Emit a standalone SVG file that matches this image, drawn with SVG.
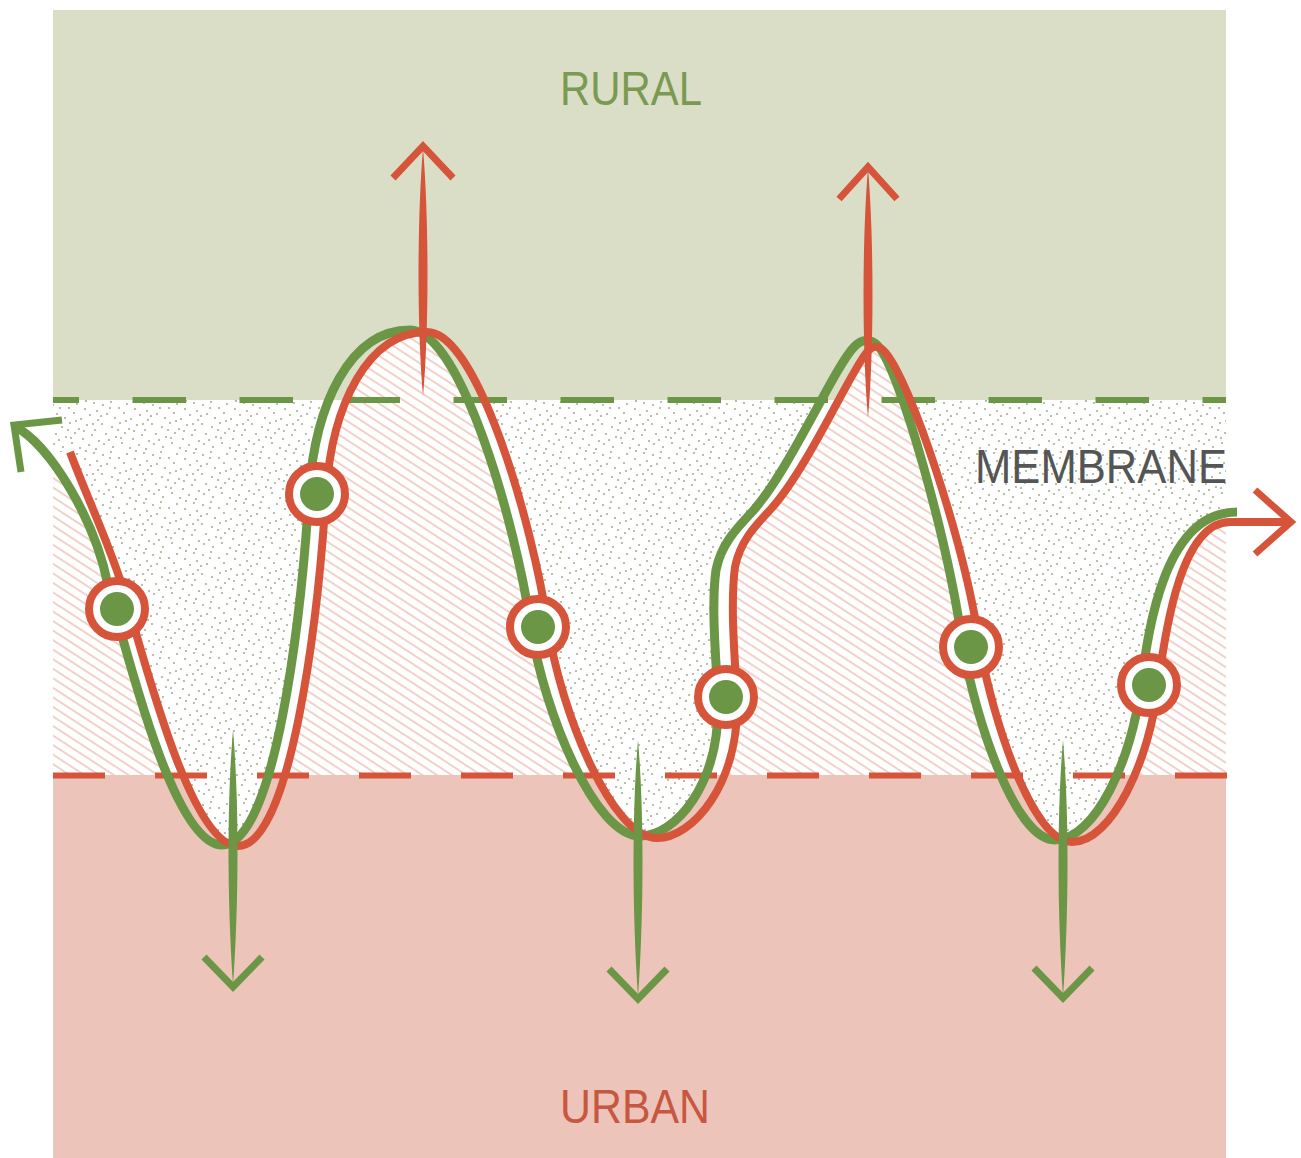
<svg xmlns="http://www.w3.org/2000/svg" width="1301" height="1158" viewBox="0 0 1301 1158">
<style>
.g{fill:none;stroke:#6b9646;stroke-width:9}
.r{fill:none;stroke:#d5543a;stroke-width:8}
.gh{fill:none;stroke:#6b9646;stroke-width:7;stroke-linejoin:miter}
.rh{fill:none;stroke:#d5543a;stroke-width:7;stroke-linejoin:miter}
.ring{fill:#fff;stroke:#d5543a;stroke-width:8}
.dot{fill:#6b9646}
.lbl{font-family:"Liberation Sans",Arial,sans-serif;font-size:48px}
</style>
<defs>
<pattern id="dots" width="50" height="50" patternUnits="userSpaceOnUse">
<rect width="50" height="50" fill="#fff"/>
<g fill="#a9b194">
<circle cx="3" cy="5" r="1.1"/><circle cx="11" cy="2" r="1.1"/><circle cx="19" cy="8" r="1.1"/><circle cx="27" cy="4" r="1.1"/><circle cx="35" cy="9" r="1.1"/><circle cx="44" cy="3" r="1.1"/><circle cx="7" cy="14" r="1.1"/><circle cx="15" cy="18" r="1.1"/><circle cx="24" cy="13" r="1.1"/><circle cx="31" cy="19" r="1.1"/><circle cx="40" cy="15" r="1.1"/><circle cx="48" cy="20" r="1.1"/><circle cx="2" cy="24" r="1.1"/><circle cx="12" cy="27" r="1.1"/><circle cx="20" cy="23" r="1.1"/><circle cx="29" cy="29" r="1.1"/><circle cx="37" cy="25" r="1.1"/><circle cx="45" cy="30" r="1.1"/><circle cx="6" cy="34" r="1.1"/><circle cx="16" cy="37" r="1.1"/><circle cx="25" cy="33" r="1.1"/><circle cx="33" cy="39" r="1.1"/><circle cx="42" cy="35" r="1.1"/><circle cx="49" cy="41" r="1.1"/><circle cx="4" cy="44" r="1.1"/><circle cx="13" cy="47" r="1.1"/><circle cx="22" cy="43" r="1.1"/><circle cx="30" cy="48" r="1.1"/><circle cx="39" cy="45" r="1.1"/><circle cx="46" cy="49" r="1.1"/><circle cx="9" cy="40" r="1.1"/><circle cx="18" cy="30" r="1.1"/><circle cx="36" cy="1" r="1.1"/><circle cx="26" cy="21" r="1.1"/><circle cx="43" cy="24" r="1.1"/><circle cx="1" cy="16" r="1.1"/><circle cx="34" cy="31" r="1.1"/><circle cx="21" cy="38" r="1.1"/><circle cx="10" cy="8" r="1.1"/><circle cx="47" cy="11" r="1.1"/>
</g>
</pattern>
<pattern id="hatch" width="12" height="8" patternUnits="userSpaceOnUse" patternTransform="rotate(33)">
<rect width="12" height="8" fill="#fff"/>
<line x1="0" y1="4" x2="12" y2="4" stroke="#f0c9be" stroke-width="1.7"/>
</pattern>
<clipPath id="band-dots"><rect x="53" y="400" width="1173" height="758"/></clipPath>
<clipPath id="band-hatch"><rect x="53" y="10" width="1173" height="765"/></clipPath>
<clipPath id="above-red"><path d="M0,452 L70,452 C86,495 112,550 125,595 C147,670 192,846 238,846 C291,846 318,620 326,494 C332,404 368,332 427,332 C477,332 532,520 548,627 C561,713 612,838 657,838 C692,838 740,785 737,697 C735,660 730,605 735,567 C740,542 754,527 770,510 C807,470 850,372 867,352 C873,345 879,345 885,352 C910,380 964,540 980,647 C993,720 1032,842 1072,842 C1112,842 1150,760 1158,685 C1166,625 1182,522 1230,522 L1301,522 L1301,0 L0,0 Z"/></clipPath>
<clipPath id="below-red"><path d="M0,452 L70,452 C86,495 112,550 125,595 C147,670 192,846 238,846 C291,846 318,620 326,494 C332,404 368,332 427,332 C477,332 532,520 548,627 C561,713 612,838 657,838 C692,838 740,785 737,697 C735,660 730,605 735,567 C740,542 754,527 770,510 C807,470 850,372 867,352 C873,345 879,345 885,352 C910,380 964,540 980,647 C993,720 1032,842 1072,842 C1112,842 1150,760 1158,685 C1166,625 1182,522 1230,522 L1301,522 L1301,1158 L0,1158 Z"/></clipPath>
</defs>
<rect width="1301" height="1158" fill="#fff"/>
<g id="zones">
<rect id="rural-zone" x="53" y="10" width="1173" height="390" fill="#dbdec7"/>
<rect id="urban-zone" x="53" y="775" width="1173" height="383" fill="#ecc4ba"/>
<rect id="membrane-zone" x="53" y="400" width="1173" height="375" fill="#fff"/>
<g clip-path="url(#band-dots)"><g clip-path="url(#above-red)">
<path fill="url(#dots)" d="M0,426 L14,426 C50,444 95,520 108,585 C130,665 175,845 222,845 C275,845 301,620 309,494 C315,404 350,330 410,330 C460,330 515,520 531,627 C544,713 595,836 640,836 C675,836 721,785 718,697 C716,660 711,605 716,570 C721,545 735,530 752,512 C790,470 835,365 855,346 C862,339 870,338 878,346 C900,370 948,540 963,647 C976,720 1015,840 1055,840 C1095,840 1132,760 1141,685 C1149,625 1165,512 1237,512 L1301,512 L1301,0 L0,0 Z"/>
</g></g>
<g clip-path="url(#band-hatch)"><g clip-path="url(#below-red)">
<path fill="url(#hatch)" d="M0,426 L14,426 C50,444 95,520 108,585 C130,665 175,845 222,845 C275,845 301,620 309,494 C315,404 350,330 410,330 C460,330 515,520 531,627 C544,713 595,836 640,836 C675,836 721,785 718,697 C716,660 711,605 716,570 C721,545 735,530 752,512 C790,470 835,365 855,346 C862,339 870,338 878,346 C900,370 948,540 963,647 C976,720 1015,840 1055,840 C1095,840 1132,760 1141,685 C1149,625 1165,512 1237,512 L1301,512 L1301,1158 L0,1158 Z"/>
</g></g>
<line x1="53" y1="400" x2="1226" y2="400" stroke="#6b9646" stroke-width="6" stroke-dasharray="53.5 53.5" stroke-dashoffset="27.5"/>
<line x1="53" y1="775.5" x2="1227" y2="775.5" stroke="#d5543a" stroke-width="6" stroke-dasharray="52 50"/>
</g>
<g id="connectors">
<path id="rural-flow" class="g" d="M14,426 C50,444 95,520 108,585 C130,665 175,845 222,845 C275,845 301,620 309,494 C315,404 350,330 410,330 C460,330 515,520 531,627 C544,713 595,836 640,836 C675,836 721,785 718,697 C716,660 711,605 716,570 C721,545 735,530 752,512 C790,470 835,365 855,346 C862,339 870,338 878,346 C900,370 948,540 963,647 C976,720 1015,840 1055,840 C1095,840 1132,760 1141,685 C1149,625 1165,512 1237,512"/>
<polyline class="gh" points="62,420 14,425 21,472"/>
<path id="urban-flow" class="r" d="M70,452 C86,495 112,550 125,595 C147,670 192,846 238,846 C291,846 318,620 326,494 C332,404 368,332 427,332 C477,332 532,520 548,627 C561,713 612,838 657,838 C692,838 740,785 737,697 C735,660 730,605 735,567 C740,542 754,527 770,510 C807,470 850,372 867,352 C873,345 879,345 885,352 C910,380 964,540 980,647 C993,720 1032,842 1072,842 C1112,842 1150,760 1158,685 C1166,625 1182,522 1230,522 L1290,522"/>
<polyline class="rh" points="1255,490 1291,522 1255,554"/>
<g id="up-arrow-1">
<path fill="#d5543a" d="M423,148 C429,220 429,330 423,396 C417,330 417,220 423,148 Z"/>
<polyline class="rh" points="393,178 423,146 453,178"/>
</g>
<g id="up-arrow-2">
<path fill="#d5543a" d="M868,168 C874,240 874,350 868,418 C862,350 862,240 868,168 Z"/>
<polyline class="rh" points="839,199 868,167 897,199"/>
</g>
<g id="down-arrow-1">
<path fill="#6b9646" d="M233,730 C239,800 239,900 233,985 C227,900 227,800 233,730 Z"/>
<polyline class="gh" points="204,957 233,987 262,957"/>
</g>
<g id="down-arrow-2">
<path fill="#6b9646" d="M638,740 C644,810 644,910 638,997 C632,910 632,810 638,740 Z"/>
<polyline class="gh" points="609,969 638,999 667,969"/>
</g>
<g id="down-arrow-3">
<path fill="#6b9646" d="M1063,740 C1069,810 1069,910 1063,997 C1057,910 1057,810 1063,740 Z"/>
<polyline class="gh" points="1034,968 1063,998 1092,968"/>
</g>
</g>
<g id="node-1"><circle class="ring" cx="117" cy="609" r="28"/><circle class="dot" cx="117" cy="609" r="17"/></g>
<g id="node-2"><circle class="ring" cx="317" cy="494" r="28"/><circle class="dot" cx="317" cy="494" r="17"/></g>
<g id="node-3"><circle class="ring" cx="538" cy="627" r="28"/><circle class="dot" cx="538" cy="627" r="17"/></g>
<g id="node-4"><circle class="ring" cx="726" cy="697" r="28"/><circle class="dot" cx="726" cy="697" r="17"/></g>
<g id="node-5"><circle class="ring" cx="971" cy="647" r="28"/><circle class="dot" cx="971" cy="647" r="17"/></g>
<g id="node-6"><circle class="ring" cx="1149" cy="685" r="28"/><circle class="dot" cx="1149" cy="685" r="17"/></g>
<g id="labels">
<text class="lbl" x="560" y="105" fill="#7a9a52" textLength="142" lengthAdjust="spacingAndGlyphs">RURAL</text>
<text class="lbl" x="975" y="483" fill="#555555" textLength="252" lengthAdjust="spacingAndGlyphs">MEMBRANE</text>
<text class="lbl" x="560" y="1123" fill="#c8573f" textLength="150" lengthAdjust="spacingAndGlyphs">URBAN</text>
</g>
</svg>
